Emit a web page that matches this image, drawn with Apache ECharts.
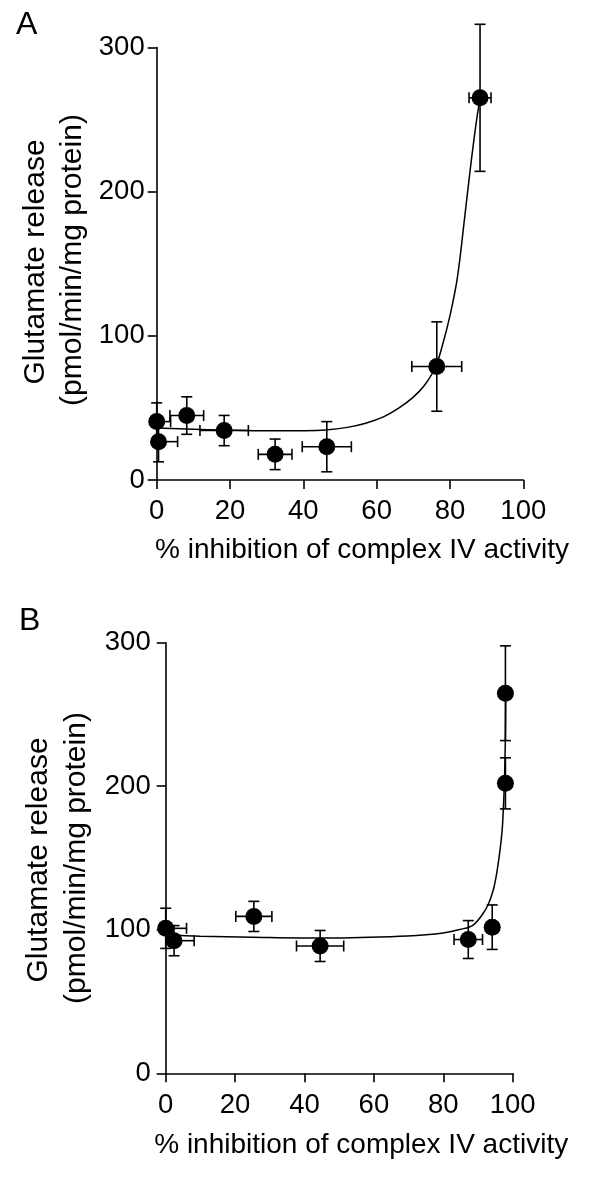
<!DOCTYPE html>
<html>
<head>
<meta charset="utf-8">
<script src="https://cdn.jsdelivr.net/npm/echarts@6/dist/echarts.min.js"></script>
<style>
html,body{margin:0;padding:0;background:#fff;}
#c{width:600px;height:1202px;}
</style>
</head>
<body>
<div id="c"></div>
<script>
// ---- Panel A data ----
const aX    = [0, 0.5, 8.2, 18.4, 32.3, 46.4, 76.4, 88.2];
const aY    = [40.5, 26.6, 44.7, 34.3, 17.8, 23.1, 78.7, 265.1];
const aXErr = [3.8, 5.2, 4.6, 6.6, 4.6, 6.7, 6.8, 3.0];
const aYErr = [13, 14, 13, 10.5, 10.6, 17.4, 31, 51];
const aCurveX = [0, 10, 18, 30, 40, 46, 52, 57, 62, 66, 70, 73, 76, 78, 80, 82, 84, 85.5, 87, 88.2];
const aCurveY = [36, 35.2, 34.7, 34.1, 34.2, 34.7, 36.5, 39.4, 44, 49.8, 57.5, 65.5, 78, 94, 114, 140, 182, 215, 245, 265];

// ---- Panel B data ----
const bX    = [0, 2.4, 25.4, 44.5, 87.2, 94.1, 97.9, 97.9];
const bY    = [101, 92.4, 109.3, 88.7, 93.2, 101.8, 202, 264.8];
const bXErr = [6, 5.8, 5.2, 6.8, 4.1, 0, 0, 0];
const bYErr = [14, 10.5, 10.5, 10.8, 13.2, 15.5, 17.8, 33];
const bCurveX = [0, 10, 25, 45, 65, 75, 80, 85, 88.6, 91.5, 93, 94.4, 95.3, 96.1, 96.7, 97.1, 97.6, 97.9, 98.0];
const bCurveY = [96.5, 95.5, 94.8, 94.2, 95.2, 96.5, 97.8, 100.3, 103.3, 111.5, 118, 127.7, 138, 150.9, 163, 174.2, 202, 235, 265];

// ---- axis ticks ----
const xTicks = [0, 20, 40, 60, 80, 100];
const yTicks = [0, 100, 200, 300];

const xTitle = '% inhibition of complex IV activity';
const yTitleLine1 = 'Glutamate release';
const yTitleLine2 = '(pmol/min/mg protein)';

const FONT = '"Liberation Sans", Arial, Helvetica, sans-serif';
const X_MIN = xTicks[0];

function zip(...arrs){ return arrs[0].map((_, i) => arrs.map(a => a[i])); }

function errRender(params, api){
  const x = api.value(0), y = api.value(1), ex = api.value(2), ey = api.value(3);
  const cap = 5.5;
  const st = { stroke: '#000', lineWidth: 1.6 };
  const ch = [];
  if (ey > 0) {
    const t = api.coord([x, y + ey]), b = api.coord([x, y - ey]);
    ch.push({ type: 'line', shape: { x1: t[0], y1: t[1], x2: b[0], y2: b[1] }, style: st });
    ch.push({ type: 'line', shape: { x1: t[0] - cap, y1: t[1], x2: t[0] + cap, y2: t[1] }, style: st });
    ch.push({ type: 'line', shape: { x1: b[0] - cap, y1: b[1], x2: b[0] + cap, y2: b[1] }, style: st });
  }
  if (ex > 0) {
    const leftClipped = (x - ex) < X_MIN;
    const l = api.coord([Math.max(x - ex, X_MIN), y]), r = api.coord([x + ex, y]);
    ch.push({ type: 'line', shape: { x1: l[0], y1: l[1], x2: r[0], y2: r[1] }, style: st });
    if (!leftClipped) ch.push({ type: 'line', shape: { x1: l[0], y1: l[1] - cap, x2: l[0], y2: l[1] + cap }, style: st });
    ch.push({ type: 'line', shape: { x1: r[0], y1: r[1] - cap, x2: r[0], y2: r[1] + cap }, style: st });
  }
  return { type: 'group', children: ch };
}

function xAxisCfg(gi, gap, margin){
  return {
    type: 'value', gridIndex: gi, min: xTicks[0], max: xTicks[xTicks.length - 1], interval: 20,
    splitLine: { show: false },
    axisLine: { show: true, onZero: false, lineStyle: { color: '#000', width: 1.6 } },
    axisTick: { show: true, length: 9, lineStyle: { color: '#000', width: 1.6 } },
    axisLabel: { color: '#000', fontSize: 27.5, fontFamily: FONT, margin: margin },
    name: xTitle, nameLocation: 'middle', nameGap: gap,
    nameTextStyle: { color: '#000', fontSize: 28, fontFamily: FONT, padding: [0, 0, 0, 44] }
  };
}
function yAxisCfg(gi, margin){
  return {
    type: 'value', gridIndex: gi, min: yTicks[0], max: yTicks[yTicks.length - 1], interval: 100,
    splitLine: { show: false },
    axisLine: { show: true, onZero: false, lineStyle: { color: '#000', width: 1.6 } },
    axisTick: { show: true, length: 9, lineStyle: { color: '#000', width: 1.6 } },
    axisLabel: { color: '#000', fontSize: 27.5, fontFamily: FONT, margin: margin }
  };
}
function vText(txt, x, y){
  return { type: 'text', x: x, y: y, rotation: Math.PI / 2,
    style: { text: txt, font: '30px ' + FONT, fill: '#000', align: 'center', verticalAlign: 'middle' } };
}

const chart = echarts.init(document.getElementById('c'), null, { renderer: 'canvas' });
chart.setOption({
  backgroundColor: '#fff',
  animation: false,
  grid: [
    { left: 156.7, top: 47.5, width: 366.6, height: 432.5 },
    { left: 165.7, top: 642.7, width: 347, height: 430.6 }
  ],
  xAxis: [ xAxisCfg(0, 56, 17), xAxisCfg(1, 58, 18) ],
  yAxis: [ yAxisCfg(0, 12), yAxisCfg(1, 15) ],
  graphic: [
    { type: 'text', left: 16, top: 9, style: { text: 'A', font: '32px ' + FONT, fill: '#000' } },
    { type: 'text', left: 19, top: 605, style: { text: 'B', font: '32px ' + FONT, fill: '#000' } },
    vText(yTitleLine1, 36, 262),
    vText(yTitleLine2, 73, 260),
    vText(yTitleLine1, 39, 860),
    vText(yTitleLine2, 77, 858)
  ],
  series: [
    { type: 'line', xAxisIndex: 0, yAxisIndex: 0, data: zip(aCurveX, aCurveY), showSymbol: false, symbol: 'none',
      smooth: 0.35, lineStyle: { color: '#000', width: 1.5 }, z: 2 },
    { type: 'custom', xAxisIndex: 0, yAxisIndex: 0, data: zip(aX, aY, aXErr, aYErr), renderItem: errRender, z: 3, clip: false },
    { type: 'scatter', xAxisIndex: 0, yAxisIndex: 0, data: zip(aX, aY), symbol: 'circle', symbolSize: 17,
      itemStyle: { color: '#000', opacity: 1 }, z: 4 },

    { type: 'line', xAxisIndex: 1, yAxisIndex: 1, data: zip(bCurveX, bCurveY), showSymbol: false, symbol: 'none',
      smooth: 0.35, lineStyle: { color: '#000', width: 1.5 }, z: 2 },
    { type: 'custom', xAxisIndex: 1, yAxisIndex: 1, data: zip(bX, bY, bXErr, bYErr), renderItem: errRender, z: 3, clip: false },
    { type: 'scatter', xAxisIndex: 1, yAxisIndex: 1, data: zip(bX, bY), symbol: 'circle', symbolSize: 17,
      itemStyle: { color: '#000', opacity: 1 }, z: 4 }
  ]
});
</script>
</body>
</html>
